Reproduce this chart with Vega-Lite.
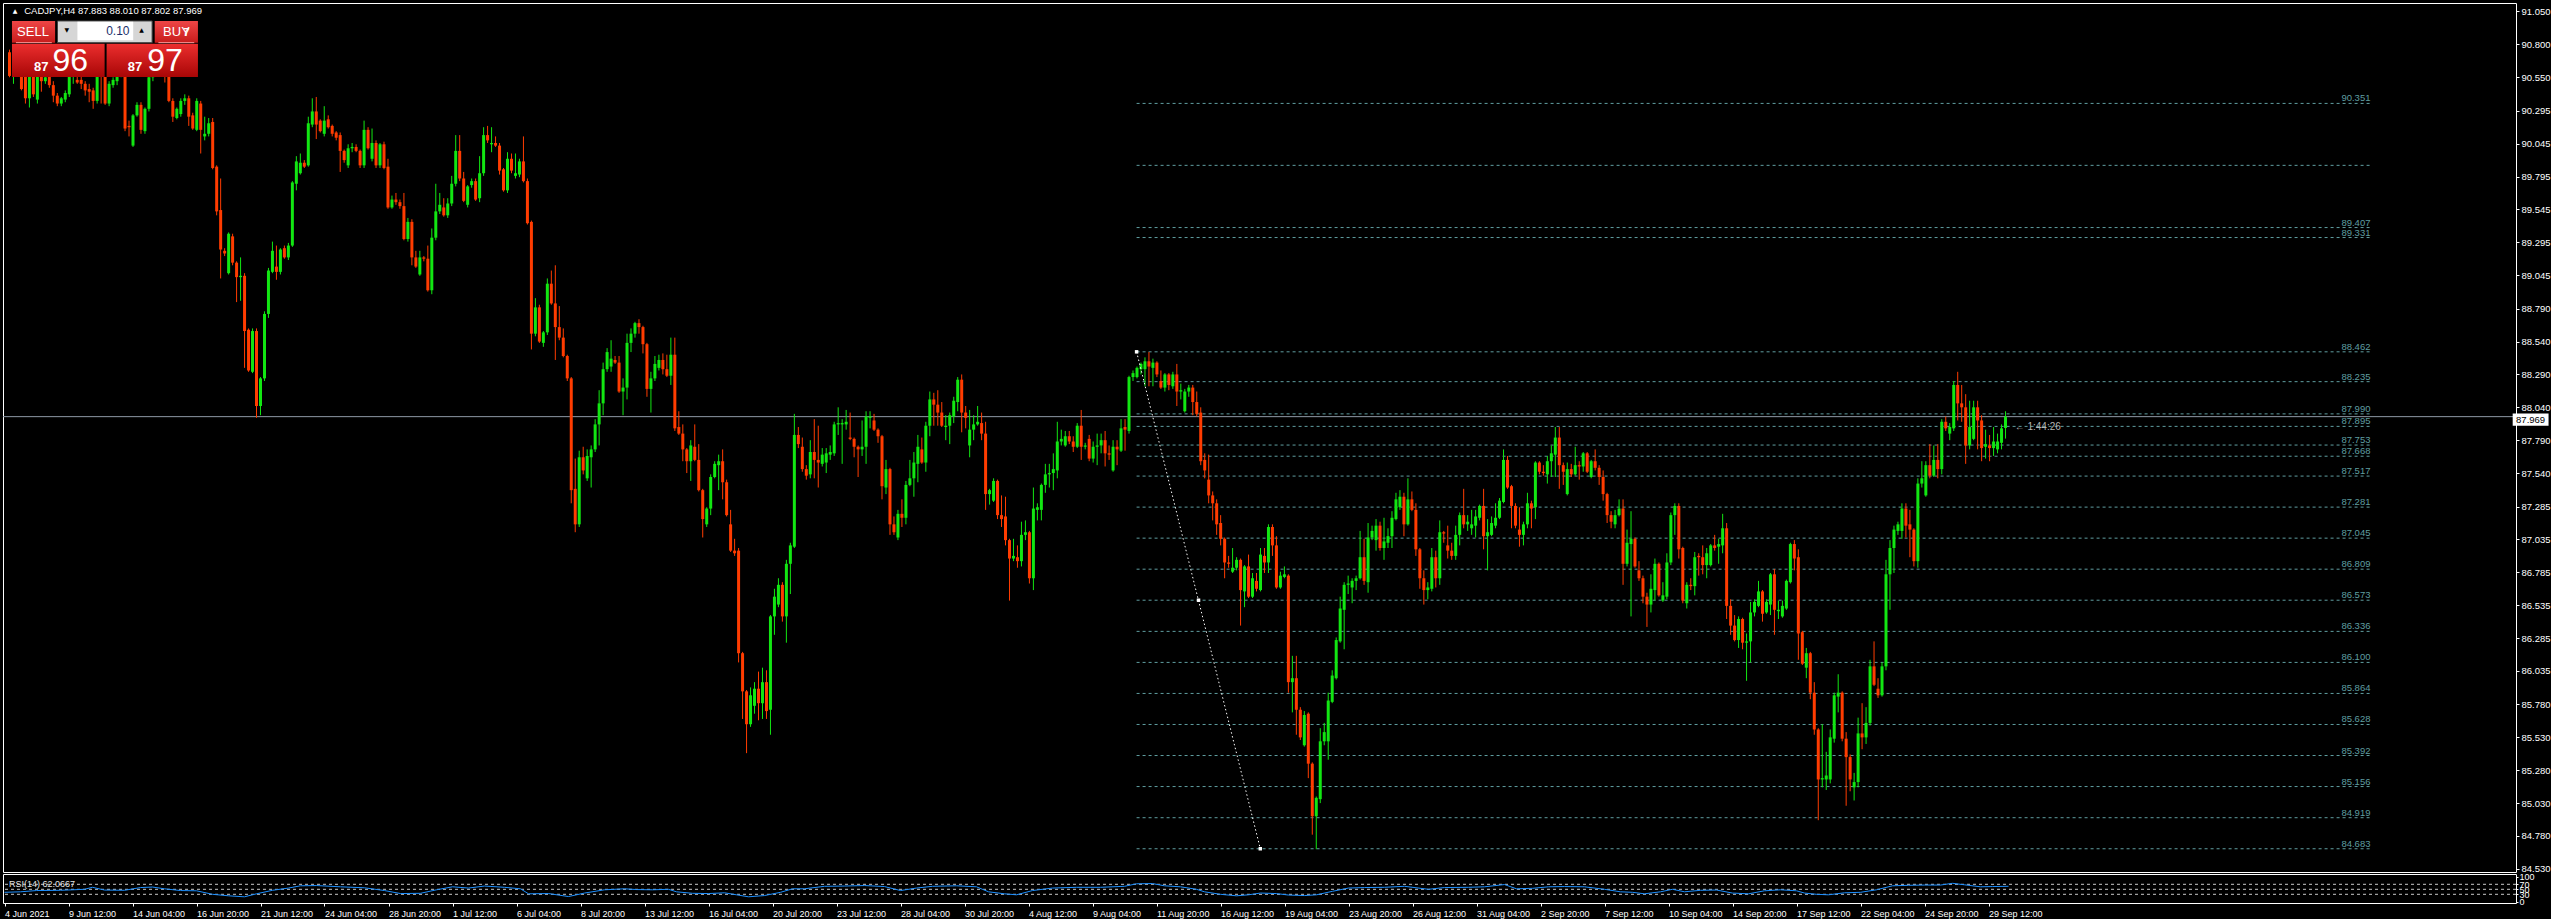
{
"$schema":"https://vega.github.io/schema/vega-lite/v6.json",
"background":"#000000",
"padding":{"left":2,"top":2,"right":0,"bottom":0},
"spacing":2,
"bounds":"flush",
"config":{"view":{"stroke":"#ffffff","strokeWidth":1},"axis":{"grid":false,"labelFont":"Liberation Sans"},"text":{"font":"Liberation Sans"}},
"datasets":{
"candles":[
{"i":0,"o":90.74,"h":90.76,"l":90.55,"c":90.56},{"i":1,"o":90.56,"h":90.64,"l":90.5,"c":90.6},{"i":2,"o":90.6,"h":90.68,"l":90.56,"c":90.64},{"i":3,"o":90.64,"h":90.7,"l":90.45,"c":90.46},{"i":4,"o":90.56,"h":90.62,"l":90.35,"c":90.39},{"i":5,"o":90.39,"h":90.66,"l":90.32,"c":90.6},{"i":6,"o":90.6,"h":90.64,"l":90.4,"c":90.42},{"i":7,"o":90.38,"h":90.68,"l":90.35,"c":90.62},{"i":8,"o":90.58,"h":90.64,"l":90.44,"c":90.52},{"i":9,"o":90.52,"h":90.6,"l":90.5,"c":90.55},
{"i":10,"o":90.62,"h":90.66,"l":90.47,"c":90.49},{"i":11,"o":90.49,"h":90.52,"l":90.36,"c":90.41},{"i":12,"o":90.41,"h":90.43,"l":90.33,"c":90.35},{"i":13,"o":90.35,"h":90.4,"l":90.33,"c":90.39},{"i":14,"o":90.38,"h":90.45,"l":90.36,"c":90.43},{"i":15,"o":90.42,"h":90.62,"l":90.4,"c":90.56},{"i":16,"o":90.58,"h":90.66,"l":90.5,"c":90.63},{"i":17,"o":90.53,"h":90.6,"l":90.5,"c":90.51},{"i":18,"o":90.53,"h":90.58,"l":90.46,"c":90.5},{"i":19,"o":90.5,"h":90.52,"l":90.41,"c":90.45},
{"i":20,"o":90.46,"h":90.5,"l":90.36,"c":90.44},{"i":21,"o":90.45,"h":90.47,"l":90.31,"c":90.37},{"i":22,"o":90.37,"h":90.6,"l":90.35,"c":90.57},{"i":23,"o":90.62,"h":90.66,"l":90.35,"c":90.56},{"i":24,"o":90.58,"h":90.62,"l":90.34,"c":90.35},{"i":25,"o":90.35,"h":90.52,"l":90.33,"c":90.5},{"i":26,"o":90.49,"h":90.55,"l":90.47,"c":90.53},{"i":27,"o":90.52,"h":90.62,"l":90.49,"c":90.58},{"i":28,"o":90.58,"h":90.7,"l":90.55,"c":90.65},{"i":29,"o":90.66,"h":90.72,"l":90.14,"c":90.16},
{"i":30,"o":90.18,"h":90.22,"l":90.1,"c":90.17},{"i":31,"o":90.03,"h":90.27,"l":90.02,"c":90.26},{"i":32,"o":90.26,"h":90.36,"l":90.25,"c":90.34},{"i":33,"o":90.34,"h":90.36,"l":90.12,"c":90.15},{"i":34,"o":90.14,"h":90.32,"l":90.12,"c":90.31},{"i":35,"o":90.31,"h":90.62,"l":90.29,"c":90.55},{"i":36,"o":90.55,"h":90.72,"l":90.52,"c":90.66},{"i":37,"o":90.66,"h":90.78,"l":90.6,"c":90.72},{"i":38,"o":90.72,"h":90.8,"l":90.62,"c":90.68},{"i":39,"o":90.68,"h":90.74,"l":90.51,"c":90.6},
{"i":40,"o":90.62,"h":90.66,"l":90.36,"c":90.37},{"i":41,"o":90.37,"h":90.39,"l":90.21,"c":90.25},{"i":42,"o":90.24,"h":90.32,"l":90.23,"c":90.31},{"i":43,"o":90.27,"h":90.39,"l":90.25,"c":90.37},{"i":44,"o":90.37,"h":90.42,"l":90.34,"c":90.39},{"i":45,"o":90.39,"h":90.41,"l":90.18,"c":90.25},{"i":46,"o":90.26,"h":90.28,"l":90.15,"c":90.16},{"i":47,"o":90.15,"h":90.39,"l":90.14,"c":90.37},{"i":48,"o":90.35,"h":90.37,"l":89.97,"c":90.15},{"i":49,"o":90.1,"h":90.25,"l":90.07,"c":90.12},
{"i":50,"o":90.12,"h":90.24,"l":90.1,"c":90.2},{"i":51,"o":90.21,"h":90.24,"l":89.85,"c":89.86},{"i":52,"o":89.87,"h":89.88,"l":89.5,"c":89.53},{"i":53,"o":89.54,"h":89.78,"l":89.02,"c":89.24},{"i":54,"o":89.23,"h":89.25,"l":89.19,"c":89.21},{"i":55,"o":89.06,"h":89.37,"l":89.05,"c":89.36},{"i":56,"o":89.34,"h":89.36,"l":89.12,"c":89.14},{"i":57,"o":89.14,"h":89.15,"l":88.84,"c":89.03},{"i":58,"o":89.03,"h":89.18,"l":88.85,"c":89.04},{"i":59,"o":89.04,"h":89.06,"l":88.34,"c":88.62},
{"i":60,"o":88.63,"h":88.64,"l":88.31,"c":88.32},{"i":61,"o":88.31,"h":88.64,"l":88.3,"c":88.62},{"i":62,"o":88.62,"h":88.64,"l":87.96,"c":88.05},{"i":63,"o":88.05,"h":88.27,"l":87.98,"c":88.26},{"i":64,"o":88.26,"h":88.77,"l":88.24,"c":88.75},{"i":65,"o":88.75,"h":89.1,"l":88.72,"c":89.08},{"i":66,"o":89.07,"h":89.3,"l":89.06,"c":89.23},{"i":67,"o":89.11,"h":89.27,"l":89.01,"c":89.07},{"i":68,"o":89.07,"h":89.25,"l":89.05,"c":89.24},{"i":69,"o":89.25,"h":89.27,"l":89.17,"c":89.18},
{"i":70,"o":89.18,"h":89.29,"l":89.16,"c":89.27},{"i":71,"o":89.27,"h":89.76,"l":89.26,"c":89.75},{"i":72,"o":89.74,"h":89.95,"l":89.69,"c":89.91},{"i":73,"o":89.82,"h":89.97,"l":89.81,"c":89.9},{"i":74,"o":89.9,"h":89.92,"l":89.86,"c":89.87},{"i":75,"o":89.88,"h":90.25,"l":89.87,"c":90.2},{"i":76,"o":90.19,"h":90.39,"l":90.17,"c":90.29},{"i":77,"o":90.29,"h":90.4,"l":90.08,"c":90.19},{"i":78,"o":90.22,"h":90.23,"l":90.13,"c":90.14},{"i":79,"o":90.12,"h":90.33,"l":90.1,"c":90.22},
{"i":80,"o":90.23,"h":90.26,"l":90.16,"c":90.17},{"i":81,"o":90.18,"h":90.19,"l":90.1,"c":90.12},{"i":82,"o":90.13,"h":90.14,"l":90.07,"c":90.09},{"i":83,"o":90.11,"h":90.13,"l":89.83,"c":89.99},{"i":84,"o":89.99,"h":90.0,"l":89.9,"c":89.92},{"i":85,"o":89.88,"h":90.04,"l":89.86,"c":90.01},{"i":86,"o":90.01,"h":90.05,"l":89.98,"c":90.02},{"i":87,"o":90.02,"h":90.04,"l":89.98,"c":89.99},{"i":88,"o":89.99,"h":90.0,"l":89.86,"c":89.88},{"i":89,"o":89.88,"h":90.22,"l":89.86,"c":90.15},
{"i":90,"o":90.15,"h":90.17,"l":90.0,"c":90.01},{"i":91,"o":89.93,"h":90.16,"l":89.91,"c":90.05},{"i":92,"o":90.05,"h":90.07,"l":89.86,"c":89.88},{"i":93,"o":89.88,"h":90.05,"l":89.86,"c":90.04},{"i":94,"o":90.04,"h":90.06,"l":89.85,"c":89.86},{"i":95,"o":89.87,"h":89.93,"l":89.55,"c":89.56},{"i":96,"o":89.56,"h":89.65,"l":89.55,"c":89.62},{"i":97,"o":89.62,"h":89.67,"l":89.58,"c":89.6},{"i":98,"o":89.6,"h":89.62,"l":89.55,"c":89.57},{"i":99,"o":89.57,"h":89.67,"l":89.31,"c":89.32},
{"i":100,"o":89.32,"h":89.48,"l":89.3,"c":89.45},{"i":101,"o":89.45,"h":89.47,"l":89.12,"c":89.18},{"i":102,"o":89.18,"h":89.23,"l":89.1,"c":89.11},{"i":103,"o":89.05,"h":89.23,"l":89.04,"c":89.18},{"i":104,"o":89.18,"h":89.19,"l":89.15,"c":89.17},{"i":105,"o":89.17,"h":89.27,"l":88.92,"c":88.93},{"i":106,"o":88.93,"h":89.4,"l":88.9,"c":89.33},{"i":107,"o":89.33,"h":89.74,"l":89.31,"c":89.53},{"i":108,"o":89.53,"h":89.67,"l":89.51,"c":89.58},{"i":109,"o":89.56,"h":89.63,"l":89.49,"c":89.5},
{"i":110,"o":89.5,"h":89.63,"l":89.48,"c":89.59},{"i":111,"o":89.59,"h":89.8,"l":89.57,"c":89.74},{"i":112,"o":89.74,"h":90.11,"l":89.72,"c":89.99},{"i":113,"o":89.99,"h":90.11,"l":89.76,"c":89.78},{"i":114,"o":89.78,"h":89.83,"l":89.6,"c":89.61},{"i":115,"o":89.58,"h":89.73,"l":89.56,"c":89.72},{"i":116,"o":89.73,"h":89.78,"l":89.71,"c":89.76},{"i":117,"o":89.76,"h":89.78,"l":89.61,"c":89.62},{"i":118,"o":89.63,"h":89.95,"l":89.6,"c":89.82},{"i":119,"o":89.82,"h":90.17,"l":89.8,"c":90.11},
{"i":120,"o":90.11,"h":90.18,"l":90.05,"c":90.07},{"i":121,"o":90.04,"h":90.17,"l":89.98,"c":90.05},{"i":122,"o":90.05,"h":90.1,"l":90.02,"c":90.03},{"i":123,"o":90.03,"h":90.05,"l":89.81,"c":89.84},{"i":124,"o":89.85,"h":89.86,"l":89.68,"c":89.69},{"i":125,"o":89.69,"h":89.98,"l":89.67,"c":89.93},{"i":126,"o":89.93,"h":89.97,"l":89.82,"c":89.84},{"i":127,"o":89.8,"h":89.97,"l":89.78,"c":89.82},{"i":128,"o":89.81,"h":89.93,"l":89.79,"c":89.91},{"i":129,"o":89.91,"h":90.1,"l":89.75,"c":89.76},
{"i":130,"o":89.76,"h":89.78,"l":89.43,"c":89.44},{"i":131,"o":89.45,"h":89.46,"l":88.48,"c":88.6},{"i":132,"o":88.6,"h":88.87,"l":88.58,"c":88.8},{"i":133,"o":88.8,"h":88.82,"l":88.53,"c":88.54},{"i":134,"o":88.53,"h":88.62,"l":88.5,"c":88.61},{"i":135,"o":88.61,"h":89.02,"l":88.59,"c":88.98},{"i":136,"o":88.98,"h":89.08,"l":88.82,"c":88.83},{"i":137,"o":88.83,"h":89.12,"l":88.4,"c":88.65},{"i":138,"o":88.65,"h":88.81,"l":88.55,"c":88.57},{"i":139,"o":88.57,"h":88.64,"l":88.42,"c":88.43},
{"i":140,"o":88.43,"h":88.44,"l":88.24,"c":88.26},{"i":141,"o":88.26,"h":88.27,"l":87.31,"c":87.41},{"i":142,"o":87.42,"h":87.65,"l":87.09,"c":87.15},{"i":143,"o":87.15,"h":87.71,"l":87.13,"c":87.66},{"i":144,"o":87.66,"h":87.74,"l":87.53,"c":87.56},{"i":145,"o":87.5,"h":87.72,"l":87.48,"c":87.67},{"i":146,"o":87.66,"h":87.75,"l":87.43,"c":87.72},{"i":147,"o":87.72,"h":87.95,"l":87.7,"c":87.91},{"i":148,"o":87.91,"h":88.17,"l":87.75,"c":88.07},{"i":149,"o":88.07,"h":88.38,"l":87.98,"c":88.33},
{"i":150,"o":88.33,"h":88.49,"l":88.31,"c":88.46},{"i":151,"o":88.35,"h":88.55,"l":88.31,"c":88.41},{"i":152,"o":88.4,"h":88.43,"l":88.37,"c":88.38},{"i":153,"o":88.38,"h":88.43,"l":88.15,"c":88.16},{"i":154,"o":88.16,"h":88.26,"l":87.98,"c":88.19},{"i":155,"o":88.19,"h":88.6,"l":88.1,"c":88.53},{"i":156,"o":88.53,"h":88.64,"l":88.46,"c":88.6},{"i":157,"o":88.6,"h":88.69,"l":88.57,"c":88.68},{"i":158,"o":88.68,"h":88.71,"l":88.6,"c":88.65},{"i":159,"o":88.65,"h":88.66,"l":88.45,"c":88.52},
{"i":160,"o":88.52,"h":88.53,"l":88.12,"c":88.18},{"i":161,"o":88.18,"h":88.31,"l":88.0,"c":88.26},{"i":162,"o":88.26,"h":88.43,"l":88.24,"c":88.37},{"i":163,"o":88.34,"h":88.44,"l":88.32,"c":88.4},{"i":164,"o":88.4,"h":88.45,"l":88.29,"c":88.33},{"i":165,"o":88.33,"h":88.44,"l":88.27,"c":88.28},{"i":166,"o":88.28,"h":88.57,"l":88.21,"c":88.44},{"i":167,"o":88.44,"h":88.57,"l":87.86,"c":87.88},{"i":168,"o":87.89,"h":88.01,"l":87.83,"c":87.84},{"i":169,"o":87.84,"h":87.91,"l":87.63,"c":87.72},
{"i":170,"o":87.72,"h":87.73,"l":87.54,"c":87.63},{"i":171,"o":87.63,"h":87.79,"l":87.48,"c":87.75},{"i":172,"o":87.74,"h":87.91,"l":87.63,"c":87.64},{"i":173,"o":87.64,"h":87.76,"l":87.4,"c":87.41},{"i":174,"o":87.41,"h":87.42,"l":87.05,"c":87.19},{"i":175,"o":87.15,"h":87.28,"l":87.13,"c":87.27},{"i":176,"o":87.27,"h":87.53,"l":87.22,"c":87.51},{"i":177,"o":87.51,"h":87.63,"l":87.5,"c":87.61},{"i":178,"o":87.6,"h":87.68,"l":87.41,"c":87.63},{"i":179,"o":87.63,"h":87.72,"l":87.34,"c":87.47},
{"i":180,"o":87.47,"h":87.49,"l":87.21,"c":87.22},{"i":181,"o":87.15,"h":87.26,"l":86.94,"c":86.95},{"i":182,"o":86.95,"h":87.04,"l":86.91,"c":86.93},{"i":183,"o":86.95,"h":86.97,"l":86.1,"c":86.17},{"i":184,"o":86.17,"h":86.18,"l":85.67,"c":85.88},{"i":185,"o":85.88,"h":85.89,"l":85.41,"c":85.63},{"i":186,"o":85.63,"h":85.91,"l":85.61,"c":85.85},{"i":187,"o":85.77,"h":85.95,"l":85.71,"c":85.9},{"i":188,"o":85.9,"h":86.03,"l":85.66,"c":85.79},{"i":189,"o":85.79,"h":86.06,"l":85.67,"c":85.95},
{"i":190,"o":85.95,"h":86.04,"l":85.67,"c":85.73},{"i":191,"o":85.74,"h":86.46,"l":85.55,"c":86.45},{"i":192,"o":86.45,"h":86.66,"l":86.31,"c":86.6},{"i":193,"o":86.54,"h":86.74,"l":86.52,"c":86.69},{"i":194,"o":86.69,"h":86.71,"l":86.41,"c":86.45},{"i":195,"o":86.45,"h":86.88,"l":86.25,"c":86.85},{"i":196,"o":86.85,"h":87.01,"l":86.62,"c":86.99},{"i":197,"o":86.98,"h":87.99,"l":86.97,"c":87.83},{"i":198,"o":87.83,"h":87.89,"l":87.73,"c":87.76},{"i":199,"o":87.74,"h":87.81,"l":87.55,"c":87.57},
{"i":200,"o":87.57,"h":87.6,"l":87.49,"c":87.52},{"i":201,"o":87.53,"h":87.79,"l":87.5,"c":87.7},{"i":202,"o":87.7,"h":87.95,"l":87.5,"c":87.64},{"i":203,"o":87.64,"h":87.9,"l":87.43,"c":87.62},{"i":204,"o":87.61,"h":87.73,"l":87.59,"c":87.68},{"i":205,"o":87.62,"h":87.73,"l":87.54,"c":87.69},{"i":206,"o":87.68,"h":87.75,"l":87.64,"c":87.7},{"i":207,"o":87.69,"h":87.93,"l":87.67,"c":87.91},{"i":208,"o":87.91,"h":88.04,"l":87.83,"c":87.92},{"i":209,"o":87.91,"h":87.95,"l":87.61,"c":87.92},
{"i":210,"o":87.91,"h":88.02,"l":87.87,"c":87.93},{"i":211,"o":87.81,"h":88.0,"l":87.79,"c":87.8},{"i":212,"o":87.8,"h":87.81,"l":87.66,"c":87.74},{"i":213,"o":87.74,"h":87.75,"l":87.51,"c":87.72},{"i":214,"o":87.72,"h":87.94,"l":87.67,"c":87.74},{"i":215,"o":87.74,"h":88.01,"l":87.61,"c":87.97},{"i":216,"o":87.96,"h":88.01,"l":87.88,"c":87.97},{"i":217,"o":87.94,"h":87.99,"l":87.86,"c":87.87},{"i":218,"o":87.87,"h":87.88,"l":87.77,"c":87.82},{"i":219,"o":87.82,"h":87.83,"l":87.34,"c":87.44},
{"i":220,"o":87.43,"h":87.64,"l":87.38,"c":87.57},{"i":221,"o":87.57,"h":87.58,"l":87.07,"c":87.15},{"i":222,"o":87.15,"h":87.21,"l":87.07,"c":87.09},{"i":223,"o":87.05,"h":87.26,"l":87.03,"c":87.23},{"i":224,"o":87.23,"h":87.34,"l":87.13,"c":87.2},{"i":225,"o":87.2,"h":87.48,"l":87.15,"c":87.45},{"i":226,"o":87.45,"h":87.64,"l":87.44,"c":87.5},{"i":227,"o":87.5,"h":87.7,"l":87.36,"c":87.62},{"i":228,"o":87.61,"h":87.83,"l":87.47,"c":87.74},{"i":229,"o":87.72,"h":87.81,"l":87.61,"c":87.62},
{"i":230,"o":87.62,"h":87.93,"l":87.55,"c":87.9},{"i":231,"o":87.9,"h":88.16,"l":87.82,"c":88.1},{"i":232,"o":88.1,"h":88.15,"l":87.9,"c":88.06},{"i":233,"o":88.06,"h":88.17,"l":87.9,"c":88.0},{"i":234,"o":88.0,"h":88.08,"l":87.89,"c":87.9},{"i":235,"o":87.89,"h":87.98,"l":87.79,"c":87.9},{"i":236,"o":87.9,"h":88.0,"l":87.76,"c":87.98},{"i":237,"o":87.97,"h":88.12,"l":87.92,"c":88.09},{"i":238,"o":88.08,"h":88.27,"l":88.01,"c":88.25},{"i":239,"o":88.25,"h":88.29,"l":87.85,"c":88.0},
{"i":240,"o":88.0,"h":88.05,"l":87.88,"c":87.96},{"i":241,"o":87.75,"h":88.02,"l":87.66,"c":87.87},{"i":242,"o":87.87,"h":87.98,"l":87.79,"c":87.91},{"i":243,"o":87.91,"h":88.05,"l":87.9,"c":87.93},{"i":244,"o":87.92,"h":88.0,"l":87.79,"c":87.84},{"i":245,"o":87.84,"h":87.93,"l":87.26,"c":87.38},{"i":246,"o":87.38,"h":87.42,"l":87.3,"c":87.41},{"i":247,"o":87.33,"h":87.5,"l":87.32,"c":87.48},{"i":248,"o":87.48,"h":87.49,"l":87.19,"c":87.22},{"i":249,"o":87.22,"h":87.37,"l":87.13,"c":87.19},
{"i":250,"o":87.21,"h":87.36,"l":86.99,"c":87.03},{"i":251,"o":87.03,"h":87.04,"l":86.57,"c":86.89},{"i":252,"o":86.89,"h":87.04,"l":86.87,"c":86.91},{"i":253,"o":86.9,"h":86.99,"l":86.82,"c":86.87},{"i":254,"o":86.87,"h":87.17,"l":86.83,"c":87.07},{"i":255,"o":87.07,"h":87.18,"l":87.03,"c":87.09},{"i":256,"o":87.09,"h":87.1,"l":86.7,"c":86.74},{"i":257,"o":86.74,"h":87.43,"l":86.65,"c":87.27},{"i":258,"o":87.26,"h":87.31,"l":87.18,"c":87.28},{"i":259,"o":87.26,"h":87.46,"l":87.18,"c":87.45},
{"i":260,"o":87.45,"h":87.61,"l":87.39,"c":87.53},{"i":261,"o":87.53,"h":87.61,"l":87.43,"c":87.54},{"i":262,"o":87.54,"h":87.69,"l":87.41,"c":87.57},{"i":263,"o":87.56,"h":87.93,"l":87.5,"c":87.78},{"i":264,"o":87.78,"h":87.87,"l":87.75,"c":87.8},{"i":265,"o":87.75,"h":87.86,"l":87.74,"c":87.82},{"i":266,"o":87.82,"h":87.86,"l":87.76,"c":87.78},{"i":267,"o":87.78,"h":87.82,"l":87.7,"c":87.74},{"i":268,"o":87.74,"h":87.92,"l":87.73,"c":87.9},{"i":269,"o":87.9,"h":88.02,"l":87.64,"c":87.74},
{"i":270,"o":87.74,"h":87.77,"l":87.72,"c":87.75},{"i":271,"o":87.8,"h":87.83,"l":87.63,"c":87.65},{"i":272,"o":87.65,"h":87.78,"l":87.62,"c":87.74},{"i":273,"o":87.74,"h":87.84,"l":87.6,"c":87.75},{"i":274,"o":87.75,"h":87.84,"l":87.69,"c":87.79},{"i":275,"o":87.79,"h":87.86,"l":87.59,"c":87.69},{"i":276,"o":87.69,"h":87.75,"l":87.64,"c":87.68},{"i":277,"o":87.56,"h":87.79,"l":87.55,"c":87.74},{"i":278,"o":87.74,"h":87.79,"l":87.6,"c":87.72},{"i":279,"o":87.71,"h":87.95,"l":87.7,"c":87.88},
{"i":280,"o":87.89,"h":87.95,"l":87.71,"c":87.87},{"i":281,"o":87.86,"h":88.28,"l":87.84,"c":88.27},{"i":282,"o":88.27,"h":88.32,"l":88.24,"c":88.3},{"i":283,"o":88.27,"h":88.35,"l":88.26,"c":88.34},{"i":284,"o":88.33,"h":88.38,"l":88.29,"c":88.37},{"i":285,"o":88.33,"h":88.42,"l":88.2,"c":88.39},{"i":286,"o":88.39,"h":88.46,"l":88.2,"c":88.35},{"i":287,"o":88.34,"h":88.41,"l":88.2,"c":88.38},{"i":288,"o":88.38,"h":88.39,"l":88.27,"c":88.29},{"i":289,"o":88.24,"h":88.32,"l":88.18,"c":88.19},
{"i":290,"o":88.19,"h":88.3,"l":88.16,"c":88.29},{"i":291,"o":88.29,"h":88.3,"l":88.17,"c":88.21},{"i":292,"o":88.2,"h":88.31,"l":88.18,"c":88.29},{"i":293,"o":88.29,"h":88.37,"l":88.05,"c":88.16},{"i":294,"o":88.16,"h":88.22,"l":88.1,"c":88.17},{"i":295,"o":88.01,"h":88.18,"l":88.0,"c":88.16},{"i":296,"o":88.16,"h":88.21,"l":88.12,"c":88.19},{"i":297,"o":88.19,"h":88.21,"l":87.98,"c":88.08},{"i":298,"o":88.08,"h":88.16,"l":87.97,"c":87.99},{"i":299,"o":88.0,"h":88.04,"l":87.6,"c":87.63},
{"i":300,"o":87.64,"h":87.69,"l":87.5,"c":87.56},{"i":301,"o":87.49,"h":87.68,"l":87.31,"c":87.37},{"i":302,"o":87.37,"h":87.4,"l":87.18,"c":87.31},{"i":303,"o":87.31,"h":87.34,"l":87.07,"c":87.15},{"i":304,"o":87.16,"h":87.22,"l":86.99,"c":87.04},{"i":305,"o":87.04,"h":87.05,"l":86.74,"c":86.86},{"i":306,"o":86.86,"h":86.91,"l":86.82,"c":86.85},{"i":307,"o":86.79,"h":86.97,"l":86.78,"c":86.82},{"i":308,"o":86.82,"h":86.9,"l":86.8,"c":86.88},{"i":309,"o":86.88,"h":86.89,"l":86.38,"c":86.65},
{"i":310,"o":86.64,"h":86.84,"l":86.52,"c":86.83},{"i":311,"o":86.83,"h":86.92,"l":86.59,"c":86.6},{"i":312,"o":86.6,"h":86.78,"l":86.59,"c":86.74},{"i":313,"o":86.72,"h":86.78,"l":86.64,"c":86.66},{"i":314,"o":86.65,"h":86.97,"l":86.64,"c":86.92},{"i":315,"o":86.91,"h":86.97,"l":86.78,"c":86.86},{"i":316,"o":86.86,"h":87.15,"l":86.78,"c":87.13},{"i":317,"o":87.13,"h":87.15,"l":86.91,"c":86.99},{"i":318,"o":86.99,"h":87.06,"l":86.66,"c":86.67},{"i":319,"o":86.67,"h":86.79,"l":86.66,"c":86.76},
{"i":320,"o":86.75,"h":86.83,"l":86.74,"c":86.77},{"i":321,"o":86.76,"h":86.77,"l":85.87,"c":85.95},{"i":322,"o":85.95,"h":86.15,"l":85.72,"c":85.98},{"i":323,"o":85.98,"h":86.15,"l":85.55,"c":85.74},{"i":324,"o":85.74,"h":85.76,"l":85.51,"c":85.53},{"i":325,"o":85.47,"h":85.73,"l":85.46,"c":85.7},{"i":326,"o":85.71,"h":85.72,"l":85.22,"c":85.33},{"i":327,"o":85.33,"h":85.34,"l":84.79,"c":84.93},{"i":328,"o":84.93,"h":85.08,"l":84.68,"c":85.07},{"i":329,"o":85.06,"h":85.6,"l":85.03,"c":85.5},
{"i":330,"o":85.5,"h":85.64,"l":85.47,"c":85.57},{"i":331,"o":85.5,"h":85.87,"l":85.36,"c":85.81},{"i":332,"o":85.8,"h":86.04,"l":85.79,"c":86.0},{"i":333,"o":85.98,"h":86.29,"l":85.97,"c":86.27},{"i":334,"o":86.26,"h":86.6,"l":86.25,"c":86.51},{"i":335,"o":86.5,"h":86.71,"l":86.2,"c":86.69},{"i":336,"o":86.69,"h":86.76,"l":86.62,"c":86.7},{"i":337,"o":86.67,"h":86.74,"l":86.55,"c":86.72},{"i":338,"o":86.72,"h":86.76,"l":86.65,"c":86.74},{"i":339,"o":86.74,"h":87.1,"l":86.73,"c":86.9},
{"i":340,"o":86.9,"h":87.04,"l":86.69,"c":86.72},{"i":341,"o":86.71,"h":87.16,"l":86.63,"c":87.05},{"i":342,"o":87.05,"h":87.14,"l":87.03,"c":87.1},{"i":343,"o":87.03,"h":87.19,"l":86.95,"c":87.14},{"i":344,"o":87.14,"h":87.17,"l":86.95,"c":86.97},{"i":345,"o":86.97,"h":87.2,"l":86.88,"c":87.02},{"i":346,"o":87.01,"h":87.12,"l":86.97,"c":87.06},{"i":347,"o":87.06,"h":87.25,"l":86.97,"c":87.2},{"i":348,"o":87.19,"h":87.39,"l":87.18,"c":87.34},{"i":349,"o":87.28,"h":87.41,"l":87.26,"c":87.36},
{"i":350,"o":87.36,"h":87.39,"l":87.06,"c":87.15},{"i":351,"o":87.15,"h":87.5,"l":87.14,"c":87.34},{"i":352,"o":87.34,"h":87.4,"l":87.25,"c":87.26},{"i":353,"o":87.26,"h":87.31,"l":86.91,"c":86.96},{"i":354,"o":86.96,"h":86.97,"l":86.66,"c":86.74},{"i":355,"o":86.74,"h":86.8,"l":86.54,"c":86.65},{"i":356,"o":86.65,"h":86.71,"l":86.58,"c":86.67},{"i":357,"o":86.66,"h":86.97,"l":86.64,"c":86.9},{"i":358,"o":86.9,"h":86.95,"l":86.67,"c":86.74},{"i":359,"o":86.74,"h":87.18,"l":86.69,"c":87.09},
{"i":360,"o":87.09,"h":87.1,"l":87.01,"c":87.08},{"i":361,"o":86.99,"h":87.14,"l":86.89,"c":86.95},{"i":362,"o":86.95,"h":87.01,"l":86.88,"c":86.91},{"i":363,"o":86.91,"h":87.14,"l":86.88,"c":87.07},{"i":364,"o":87.07,"h":87.24,"l":86.99,"c":87.22},{"i":365,"o":87.22,"h":87.42,"l":87.12,"c":87.15},{"i":366,"o":87.15,"h":87.22,"l":87.1,"c":87.17},{"i":367,"o":87.12,"h":87.26,"l":87.07,"c":87.15},{"i":368,"o":87.14,"h":87.26,"l":87.05,"c":87.21},{"i":369,"o":87.2,"h":87.3,"l":87.18,"c":87.29},
{"i":370,"o":87.29,"h":87.42,"l":86.96,"c":87.06},{"i":371,"o":87.06,"h":87.19,"l":86.8,"c":87.09},{"i":372,"o":87.07,"h":87.21,"l":87.06,"c":87.16},{"i":373,"o":87.14,"h":87.31,"l":87.12,"c":87.2},{"i":374,"o":87.2,"h":87.35,"l":87.19,"c":87.33},{"i":375,"o":87.32,"h":87.72,"l":87.31,"c":87.64},{"i":376,"o":87.64,"h":87.67,"l":87.42,"c":87.43},{"i":377,"o":87.44,"h":87.45,"l":87.12,"c":87.29},{"i":378,"o":87.29,"h":87.31,"l":87.12,"c":87.14},{"i":379,"o":87.11,"h":87.28,"l":86.98,"c":87.07},
{"i":380,"o":87.07,"h":87.17,"l":86.99,"c":87.15},{"i":381,"o":87.15,"h":87.39,"l":87.12,"c":87.31},{"i":382,"o":87.31,"h":87.33,"l":87.12,"c":87.27},{"i":383,"o":87.28,"h":87.63,"l":87.19,"c":87.62},{"i":384,"o":87.62,"h":87.63,"l":87.53,"c":87.55},{"i":385,"o":87.55,"h":87.6,"l":87.52,"c":87.54},{"i":386,"o":87.53,"h":87.67,"l":87.46,"c":87.63},{"i":387,"o":87.63,"h":87.75,"l":87.51,"c":87.69},{"i":388,"o":87.68,"h":87.89,"l":87.51,"c":87.81},{"i":389,"o":87.81,"h":87.89,"l":87.42,"c":87.6},
{"i":390,"o":87.6,"h":87.62,"l":87.45,"c":87.55},{"i":391,"o":87.38,"h":87.62,"l":87.37,"c":87.57},{"i":392,"o":87.57,"h":87.61,"l":87.51,"c":87.53},{"i":393,"o":87.53,"h":87.74,"l":87.52,"c":87.6},{"i":394,"o":87.6,"h":87.63,"l":87.49,"c":87.59},{"i":395,"o":87.59,"h":87.7,"l":87.55,"c":87.69},{"i":396,"o":87.69,"h":87.7,"l":87.54,"c":87.55},{"i":397,"o":87.51,"h":87.64,"l":87.5,"c":87.63},{"i":398,"o":87.63,"h":87.72,"l":87.56,"c":87.58},{"i":399,"o":87.58,"h":87.6,"l":87.45,"c":87.51},
{"i":400,"o":87.51,"h":87.56,"l":87.33,"c":87.38},{"i":401,"o":87.38,"h":87.39,"l":87.16,"c":87.22},{"i":402,"o":87.22,"h":87.25,"l":87.12,"c":87.17},{"i":403,"o":87.15,"h":87.26,"l":87.12,"c":87.22},{"i":404,"o":87.22,"h":87.34,"l":87.21,"c":87.27},{"i":405,"o":87.27,"h":87.34,"l":86.69,"c":86.85},{"i":406,"o":86.85,"h":87.11,"l":86.83,"c":87.01},{"i":407,"o":87.0,"h":87.25,"l":86.45,"c":87.04},{"i":408,"o":87.04,"h":87.05,"l":86.82,"c":86.83},{"i":409,"o":86.8,"h":86.87,"l":86.72,"c":86.74},
{"i":410,"o":86.74,"h":86.76,"l":86.55,"c":86.6},{"i":411,"o":86.6,"h":86.63,"l":86.37,"c":86.54},{"i":412,"o":86.54,"h":86.77,"l":86.48,"c":86.66},{"i":413,"o":86.65,"h":86.89,"l":86.57,"c":86.85},{"i":414,"o":86.85,"h":86.86,"l":86.6,"c":86.61},{"i":415,"o":86.57,"h":86.71,"l":86.56,"c":86.61},{"i":416,"o":86.6,"h":86.93,"l":86.58,"c":86.86},{"i":417,"o":86.86,"h":87.24,"l":86.84,"c":87.22},{"i":418,"o":87.22,"h":87.31,"l":87.07,"c":87.29},{"i":419,"o":87.29,"h":87.31,"l":86.89,"c":86.96},
{"i":420,"o":86.97,"h":86.98,"l":86.55,"c":86.57},{"i":421,"o":86.55,"h":86.71,"l":86.51,"c":86.69},{"i":422,"o":86.69,"h":86.74,"l":86.65,"c":86.68},{"i":423,"o":86.68,"h":86.94,"l":86.61,"c":86.9},{"i":424,"o":86.91,"h":86.93,"l":86.76,"c":86.9},{"i":425,"o":86.9,"h":86.99,"l":86.77,"c":86.84},{"i":426,"o":86.84,"h":86.97,"l":86.74,"c":86.93},{"i":427,"o":86.84,"h":87.0,"l":86.83,"c":86.99},{"i":428,"o":86.99,"h":87.07,"l":86.95,"c":86.97},{"i":429,"o":86.98,"h":87.04,"l":86.85,"c":87.0},
{"i":430,"o":86.99,"h":87.23,"l":86.93,"c":87.12},{"i":431,"o":87.12,"h":87.16,"l":86.43,"c":86.53},{"i":432,"o":86.53,"h":86.58,"l":86.31,"c":86.38},{"i":433,"o":86.38,"h":86.46,"l":86.26,"c":86.27},{"i":434,"o":86.27,"h":86.45,"l":86.21,"c":86.43},{"i":435,"o":86.43,"h":86.44,"l":86.2,"c":86.25},{"i":436,"o":86.25,"h":86.32,"l":85.96,"c":86.26},{"i":437,"o":86.26,"h":86.56,"l":86.1,"c":86.48},{"i":438,"o":86.48,"h":86.58,"l":86.45,"c":86.56},{"i":439,"o":86.53,"h":86.72,"l":86.52,"c":86.64},
{"i":440,"o":86.64,"h":86.65,"l":86.41,"c":86.47},{"i":441,"o":86.48,"h":86.58,"l":86.47,"c":86.56},{"i":442,"o":86.54,"h":86.78,"l":86.46,"c":86.77},{"i":443,"o":86.77,"h":86.81,"l":86.31,"c":86.5},{"i":444,"o":86.49,"h":86.57,"l":86.43,"c":86.5},{"i":445,"o":86.45,"h":86.57,"l":86.44,"c":86.53},{"i":446,"o":86.51,"h":86.73,"l":86.5,"c":86.72},{"i":447,"o":86.71,"h":87.01,"l":86.7,"c":87.0},{"i":448,"o":87.0,"h":87.03,"l":86.8,"c":86.89},{"i":449,"o":86.9,"h":86.96,"l":86.12,"c":86.32},
{"i":450,"o":86.33,"h":86.34,"l":86.08,"c":86.09},{"i":451,"o":86.06,"h":86.21,"l":85.98,"c":86.17},{"i":452,"o":86.17,"h":86.18,"l":85.82,"c":85.87},{"i":453,"o":85.87,"h":85.95,"l":85.55,"c":85.59},{"i":454,"o":85.59,"h":85.6,"l":84.9,"c":85.21},{"i":455,"o":85.21,"h":85.63,"l":85.15,"c":85.22},{"i":456,"o":85.21,"h":85.42,"l":85.13,"c":85.24},{"i":457,"o":85.21,"h":85.59,"l":85.18,"c":85.53},{"i":458,"o":85.52,"h":85.87,"l":85.49,"c":85.85},{"i":459,"o":85.84,"h":86.01,"l":85.72,"c":85.87},
{"i":460,"o":85.87,"h":85.88,"l":85.5,"c":85.52},{"i":461,"o":85.52,"h":85.57,"l":85.01,"c":85.38},{"i":462,"o":85.38,"h":85.4,"l":85.12,"c":85.21},{"i":463,"o":85.15,"h":85.26,"l":85.05,"c":85.19},{"i":464,"o":85.19,"h":85.68,"l":85.15,"c":85.56},{"i":465,"o":85.56,"h":85.79,"l":85.44,"c":85.53},{"i":466,"o":85.53,"h":85.76,"l":85.48,"c":85.64},{"i":467,"o":85.64,"h":86.12,"l":85.62,"c":86.07},{"i":468,"o":86.07,"h":86.26,"l":85.92,"c":85.93},{"i":469,"o":85.9,"h":85.98,"l":85.83,"c":85.85},
{"i":470,"o":85.85,"h":86.1,"l":85.84,"c":86.07},{"i":471,"o":86.07,"h":86.88,"l":86.04,"c":86.77},{"i":472,"o":86.77,"h":87.03,"l":86.5,"c":86.97},{"i":473,"o":86.97,"h":87.14,"l":86.78,"c":87.11},{"i":474,"o":87.1,"h":87.17,"l":87.07,"c":87.15},{"i":475,"o":87.1,"h":87.31,"l":87.04,"c":87.27},{"i":476,"o":87.27,"h":87.31,"l":87.05,"c":87.14},{"i":477,"o":87.15,"h":87.26,"l":86.9,"c":87.11},{"i":478,"o":87.11,"h":87.12,"l":86.83,"c":86.87},{"i":479,"o":86.87,"h":87.5,"l":86.82,"c":87.46},
{"i":480,"o":87.46,"h":87.63,"l":87.43,"c":87.5},{"i":481,"o":87.37,"h":87.63,"l":87.36,"c":87.6},{"i":482,"o":87.6,"h":87.76,"l":87.5,"c":87.52},{"i":483,"o":87.52,"h":87.75,"l":87.51,"c":87.64},{"i":484,"o":87.64,"h":87.76,"l":87.5,"c":87.57},{"i":485,"o":87.57,"h":87.95,"l":87.53,"c":87.93},{"i":486,"o":87.93,"h":87.97,"l":87.86,"c":87.88},{"i":487,"o":87.84,"h":87.92,"l":87.79,"c":87.89},{"i":488,"o":87.88,"h":88.24,"l":87.86,"c":88.21},{"i":489,"o":88.21,"h":88.31,"l":87.94,"c":88.07},
{"i":490,"o":88.07,"h":88.21,"l":87.93,"c":88.04},{"i":491,"o":88.04,"h":88.14,"l":87.61,"c":87.75},{"i":492,"o":87.75,"h":88.09,"l":87.72,"c":87.89},{"i":493,"o":87.8,"h":88.09,"l":87.79,"c":88.04},{"i":494,"o":88.04,"h":88.09,"l":87.72,"c":87.94},{"i":495,"o":87.94,"h":87.98,"l":87.63,"c":87.73},{"i":496,"o":87.74,"h":87.87,"l":87.65,"c":87.76},{"i":497,"o":87.75,"h":87.83,"l":87.63,"c":87.73},{"i":498,"o":87.73,"h":87.89,"l":87.67,"c":87.78},{"i":499,"o":87.72,"h":87.84,"l":87.69,"c":87.78},
{"i":500,"o":87.77,"h":87.91,"l":87.72,"c":87.88},{"i":501,"o":87.883,"h":88.01,"l":87.802,"c":87.969}
],
"rsi":[
{"i":0,"r":38},{"i":4,"r":40},{"i":8,"r":45},{"i":14,"r":46},{"i":20,"r":50},{"i":22,"r":58},{"i":25,"r":47},{"i":30,"r":46},{"i":34,"r":57},{"i":37,"r":59},{"i":40,"r":52},{"i":44,"r":45},{"i":48,"r":44},{"i":52,"r":30},{"i":56,"r":24},{"i":60,"r":20},{"i":63,"r":32},{"i":67,"r":46},{"i":71,"r":55},{"i":74,"r":64},{"i":78,"r":65},{"i":84,"r":60},{"i":90,"r":56},{"i":95,"r":45},{"i":99,"r":33},{"i":104,"r":34},{"i":108,"r":48},{"i":112,"r":60},{"i":116,"r":55},{"i":120,"r":63},{"i":125,"r":58},{"i":129,"r":52},{"i":131,"r":32},{"i":136,"r":33},{"i":141,"r":21},{"i":145,"r":35},{"i":150,"r":48},{"i":155,"r":52},{"i":158,"r":49},{"i":162,"r":48},{"i":166,"r":50},{"i":168,"r":40},{"i":172,"r":34},{"i":176,"r":33},{"i":180,"r":36},{"i":183,"r":28},{"i":186,"r":20},{"i":190,"r":25},{"i":194,"r":38},{"i":197,"r":52},{"i":200,"r":52},{"i":205,"r":62},{"i":210,"r":63},{"i":215,"r":65},{"i":220,"r":61},{"i":224,"r":45},{"i":228,"r":55},{"i":232,"r":62},{"i":238,"r":64},{"i":243,"r":60},{"i":246,"r":40},{"i":250,"r":32},{"i":253,"r":28},{"i":257,"r":45},{"i":262,"r":55},{"i":268,"r":58},{"i":274,"r":58},{"i":280,"r":62},{"i":283,"r":72},{"i":287,"r":73},{"i":290,"r":64},{"i":294,"r":60},{"i":298,"r":50},{"i":300,"r":40},{"i":304,"r":30},{"i":308,"r":24},{"i":311,"r":28},{"i":314,"r":35},{"i":318,"r":33},{"i":321,"r":27},{"i":325,"r":25},{"i":328,"r":28},{"i":332,"r":42},{"i":336,"r":55},{"i":340,"r":57},{"i":345,"r":58},{"i":350,"r":62},{"i":356,"r":50},{"i":360,"r":57},{"i":366,"r":58},{"i":370,"r":60},{"i":375,"r":69},{"i":378,"r":52},{"i":382,"r":54},{"i":386,"r":60},{"i":390,"r":61},{"i":395,"r":60},{"i":400,"r":50},{"i":404,"r":40},{"i":407,"r":38},{"i":410,"r":32},{"i":414,"r":40},{"i":417,"r":50},{"i":420,"r":40},{"i":424,"r":46},{"i":428,"r":47},{"i":432,"r":35},{"i":436,"r":32},{"i":440,"r":44},{"i":444,"r":48},{"i":448,"r":44},{"i":450,"r":35},{"i":453,"r":30},{"i":456,"r":28},{"i":460,"r":36},{"i":464,"r":38},{"i":468,"r":48},{"i":472,"r":64},{"i":476,"r":66},{"i":480,"r":67},{"i":484,"r":67},{"i":487,"r":74},{"i":490,"r":68},{"i":494,"r":60},{"i":497,"r":61},{"i":501,"r":62.07}
],
"fib":[
{"lv":90.351,"lab":"90.351"},{"lv":89.88,"lab":""},{"lv":89.407,"lab":"89.407"},{"lv":89.331,"lab":"89.331"},{"lv":88.462,"lab":"88.462"},{"lv":88.235,"lab":"88.235"},{"lv":87.99,"lab":"87.990"},{"lv":87.895,"lab":"87.895"},{"lv":87.753,"lab":"87.753"},{"lv":87.668,"lab":"87.668"},{"lv":87.517,"lab":"87.517"},{"lv":87.281,"lab":"87.281"},{"lv":87.045,"lab":"87.045"},{"lv":86.809,"lab":"86.809"},{"lv":86.573,"lab":"86.573"},{"lv":86.336,"lab":"86.336"},{"lv":86.1,"lab":"86.100"},{"lv":85.864,"lab":"85.864"},{"lv":85.628,"lab":"85.628"},{"lv":85.392,"lab":"85.392"},{"lv":85.156,"lab":"85.156"},{"lv":84.919,"lab":"84.919"},{"lv":84.683,"lab":"84.683"}
]
},
"vconcat":[
{
"width":2513,"height":869,
"resolve":{"axis":{"x":"independent","y":"independent"}},
"layer":[
{"data":{"values":[{"p":87.969}]},"mark":{"type":"rule","color":"#8f99a6","strokeWidth":1},
 "encoding":{"y":{"field":"p","type":"quantitative","axis":null}}},
{"data":{"name":"fib"},"mark":{"type":"rule","color":"#5f9ea0","strokeDash":[3,3],"strokeWidth":1},
 "encoding":{"x":{"datum":282.9,"axis":null},"x2":{"datum":592.6},"y":{"field":"lv","type":"quantitative","axis":null}}},
{"data":{"name":"fib"},"mark":{"type":"text","color":"#5f9ea0","align":"right","baseline":"alphabetic","dy":-2,"fontSize":9.5},
 "encoding":{"x":{"datum":592.6,"axis":null},"y":{"field":"lv","type":"quantitative","axis":null},"text":{"field":"lab"}}},
{"data":{"name":"candles"},"mark":{"type":"rule","strokeWidth":1},
 "encoding":{
  "x":{"field":"i","type":"quantitative","scale":{"domain":[-0.375,627.875],"nice":false,"zero":false},"axis":null},
  "y":{"field":"l","type":"quantitative","scale":{"domain":[84.5062,91.1146],"nice":false,"zero":false},
       "axis":{"orient":"right","title":null,"values":[84.53,84.78,85.03,85.28,85.53,85.78,86.035,86.285,86.535,86.785,87.035,87.285,87.54,87.79,88.04,88.29,88.54,88.79,89.045,89.295,89.545,89.795,90.045,90.295,90.55,90.8,91.05],
               "labelExpr":"format(datum.value, '.3f')","tickSize":3,"tickColor":"#ffffff","labelColor":"#ffffff","labelFontSize":9.5,"labelPadding":2,"domain":false,"labelFlush":false,"labelOverlap":false,"labelBound":false}},
  "y2":{"field":"h"},
  "color":{"condition":{"test":"datum.c >= datum.o","value":"#12e612"},"value":"#ff3c00"}}},
{"data":{"name":"candles"},"mark":{"type":"bar","width":3},
 "encoding":{
  "x":{"field":"i","type":"quantitative","axis":null},
  "y":{"field":"o","type":"quantitative","axis":null},
  "y2":{"field":"c"},
  "color":{"condition":{"test":"datum.c >= datum.o","value":"#12e612"},"value":"#ff3c00"}}},
{"data":{"values":[{}]},"mark":{"type":"rule","color":"#ffffff","strokeDash":[1.5,2.5],"strokeWidth":1},
 "encoding":{"x":{"datum":282.9,"axis":null},"y":{"datum":88.462,"axis":null},"x2":{"datum":313.95},"y2":{"datum":84.683}}},
{"data":{"values":[{"t":282.9,"p":88.462},{"t":298.45,"p":86.573},{"t":313.95,"p":84.683}]},"mark":{"type":"point","shape":"square","filled":true,"color":"#ffffff","size":12,"opacity":1},
 "encoding":{"x":{"field":"t","type":"quantitative","axis":null},"y":{"field":"p","type":"quantitative","axis":null}}},
{"data":{"values":[{}]},"mark":{"type":"rect","color":"#ffffff"},
 "encoding":{"x":{"datum":628.3,"axis":null},"x2":{"datum":637.3},"y":{"datum":87.992,"axis":null},"y2":{"datum":87.9}}},
{"data":{"values":[{}]},"mark":{"type":"text","text":"87.969","color":"#000000","align":"center","baseline":"middle","fontSize":9.5},
 "encoding":{"x":{"datum":632.8,"axis":null},"y":{"datum":87.946,"axis":null}}},
{"data":{"values":[{}]},"mark":{"type":"text","text":"← 1:44:26","color":"#b4b4b4","align":"left","baseline":"middle","fontSize":10},
 "encoding":{"x":{"datum":503.3,"axis":null},"y":{"datum":87.89,"axis":null}}},
{"data":{"values":[{}]},"mark":{"type":"text","text":"▲","color":"#ffffff","align":"center","baseline":"middle","fontSize":6,"font":"DejaVu Sans"},
 "encoding":{"x":{"datum":1.4,"axis":null},"y":{"datum":91.05,"axis":null}}},
{"data":{"values":[{}]},"mark":{"type":"text","text":"CADJPY,H4  87.883 88.010 87.802 87.969","color":"#ffffff","align":"left","baseline":"middle","fontSize":9.5},
 "encoding":{"x":{"datum":3.7,"axis":null},"y":{"datum":91.05,"axis":null}}},
{"data":{"values":[{}]},"mark":{"type":"rect","color":"#000000"},
 "encoding":{"x":{"datum":0.4,"axis":null},"x2":{"datum":47.5},"y":{"datum":90.989,"axis":null},"y2":{"datum":90.552}}},
{"data":{"values":[{}]},"mark":{"type":"rect","fill":{"gradient":"linear","x1":0,"y1":0,"x2":0,"y2":1,"stops":[{"offset":0,"color":"#ee4646"},{"offset":1,"color":"#c81c1c"}]}},
 "encoding":{"x":{"datum":0.625,"axis":null},"x2":{"datum":11.45},"y":{"datum":90.978,"axis":null},"y2":{"datum":90.813}}},
{"data":{"values":[{}]},"mark":{"type":"rect","fill":{"gradient":"linear","x1":0,"y1":0,"x2":0,"y2":1,"stops":[{"offset":0,"color":"#ee4646"},{"offset":1,"color":"#c81c1c"}]}},
 "encoding":{"x":{"datum":36.45,"axis":null},"x2":{"datum":47.3},"y":{"datum":90.978,"axis":null},"y2":{"datum":90.813}}},
{"data":{"values":[{}]},"mark":{"type":"rect","fill":{"gradient":"linear","x1":0,"y1":0,"x2":0,"y2":1,"stops":[{"offset":0,"color":"#ec2e2e"},{"offset":1,"color":"#a80606"}]}},
 "encoding":{"x":{"datum":0.625,"axis":null},"x2":{"datum":23.875},"y":{"datum":90.805,"axis":null},"y2":{"datum":90.552}}},
{"data":{"values":[{}]},"mark":{"type":"rect","fill":{"gradient":"linear","x1":0,"y1":0,"x2":0,"y2":1,"stops":[{"offset":0,"color":"#ec2e2e"},{"offset":1,"color":"#a80606"}]}},
 "encoding":{"x":{"datum":24.375,"axis":null},"x2":{"datum":47.3},"y":{"datum":90.805,"axis":null},"y2":{"datum":90.552}}},
{"data":{"values":[{}]},"mark":{"type":"rect","color":"#d6d6d6","stroke":"#404040","strokeWidth":1},
 "encoding":{"x":{"datum":12.05,"axis":null},"x2":{"datum":35.8},"y":{"datum":90.978,"axis":null},"y2":{"datum":90.813}}},
{"data":{"values":[{}]},"mark":{"type":"rect","color":"#ffffff"},
 "encoding":{"x":{"datum":17.05,"axis":null},"x2":{"datum":31.05},"y":{"datum":90.972,"axis":null},"y2":{"datum":90.831}}},
{"data":{"values":[{}]},"mark":{"type":"rule","color":"#ff9c9c","strokeWidth":1},
 "encoding":{"x":{"datum":1.625,"axis":null},"x2":{"datum":10.625},"y":{"datum":90.813,"axis":null}}},
{"data":{"values":[{}]},"mark":{"type":"rule","color":"#ff9c9c","strokeWidth":1},
 "encoding":{"x":{"datum":37.375,"axis":null},"x2":{"datum":46.375},"y":{"datum":90.813,"axis":null}}},
{"data":{"values":[{}]},"mark":{"type":"text","text":"▼","color":"#000000","align":"center","baseline":"middle","fontSize":6,"font":"DejaVu Sans"},
 "encoding":{"x":{"datum":14.375,"axis":null},"y":{"datum":90.909,"axis":null}}},
{"data":{"values":[{}]},"mark":{"type":"text","text":"▲","color":"#000000","align":"center","baseline":"middle","fontSize":6,"font":"DejaVu Sans"},
 "encoding":{"x":{"datum":33.125,"axis":null},"y":{"datum":90.909,"axis":null}}},
{"data":{"values":[{}]},"mark":{"type":"text","text":"0.10","color":"#1b2f6b","align":"right","baseline":"middle","fontSize":12,"font":"Liberation Sans Narrow, Liberation Sans"},
 "encoding":{"x":{"datum":30.125,"axis":null},"y":{"datum":90.9,"axis":null}}},
{"data":{"values":[{}]},"mark":{"type":"text","text":"SELL","color":"#ffffff","align":"center","baseline":"middle","fontSize":13,"font":"Liberation Sans Narrow, Liberation Sans"},
 "encoding":{"x":{"datum":5.9,"axis":null},"y":{"datum":90.893,"axis":null}}},
{"data":{"values":[{}]},"mark":{"type":"text","text":"BUY","color":"#ffffff","align":"center","baseline":"middle","fontSize":13,"font":"Liberation Sans Narrow, Liberation Sans"},
 "encoding":{"x":{"datum":41.9,"axis":null},"y":{"datum":90.893,"axis":null}}},
{"data":{"values":[{}]},"mark":{"type":"text","text":"87","color":"#ffffff","align":"right","baseline":"alphabetic","fontSize":13,"fontWeight":"bold"},
 "encoding":{"x":{"datum":9.8,"axis":null},"y":{"datum":90.598,"axis":null}}},
{"data":{"values":[{}]},"mark":{"type":"text","text":"96","color":"#ffffff","align":"left","baseline":"alphabetic","fontSize":32},
 "encoding":{"x":{"datum":10.8,"axis":null},"y":{"datum":90.598,"axis":null}}},
{"data":{"values":[{}]},"mark":{"type":"text","text":"9","color":"#ffffff","align":"left","baseline":"alphabetic","fontSize":11,"fontWeight":"bold"},
 "encoding":{"x":{"datum":19.875,"axis":null},"y":{"datum":90.864,"axis":null}}},
{"data":{"values":[{}]},"mark":{"type":"text","text":"87","color":"#ffffff","align":"right","baseline":"alphabetic","fontSize":13,"fontWeight":"bold"},
 "encoding":{"x":{"datum":33.3,"axis":null},"y":{"datum":90.598,"axis":null}}},
{"data":{"values":[{}]},"mark":{"type":"text","text":"97","color":"#ffffff","align":"left","baseline":"alphabetic","fontSize":32},
 "encoding":{"x":{"datum":34.55,"axis":null},"y":{"datum":90.598,"axis":null}}},
{"data":{"values":[{}]},"mark":{"type":"text","text":"7","color":"#ffffff","align":"left","baseline":"alphabetic","fontSize":11,"fontWeight":"bold"},
 "encoding":{"x":{"datum":43.7,"axis":null},"y":{"datum":90.867,"axis":null}}}
]
},
{
"width":2513,"height":29,
"resolve":{"axis":{"x":"independent","y":"independent"}},
"layer":[
{"data":{"values":[{"v":30},{"v":50},{"v":70}]},"mark":{"type":"rule","color":"#c8c8c8","strokeDash":[3,3],"strokeWidth":1},
 "encoding":{"y":{"field":"v","type":"quantitative","scale":{"domain":[-4.8,111.2],"nice":false,"zero":false},
   "axis":{"orient":"right","title":null,"values":[0,30,50,70,100],"tickSize":2,"tickColor":"#ffffff","labelColor":"#ffffff","labelFontSize":9,"labelPadding":1,"domain":false,"labelFlush":false,"labelOverlap":false,"labelBound":false}}}},
{"data":{"name":"rsi"},"mark":{"type":"line","color":"#1e90ff","strokeWidth":1},
 "encoding":{
  "x":{"field":"i","type":"quantitative","scale":{"domain":[-0.375,627.875],"nice":false,"zero":false},
   "axis":{"title":null,"values":[0,16,32,48,64,80,96,112,128,144,160,176,192,208,224,240,256,272,288,304,320,336,352,368,384,400,416,432,448,464,480,496],
    "labelExpr":"['4 Jun 2021','9 Jun 12:00','14 Jun 04:00','16 Jun 20:00','21 Jun 12:00','24 Jun 04:00','28 Jun 20:00','1 Jul 12:00','6 Jul 04:00','8 Jul 20:00','13 Jul 12:00','16 Jul 04:00','20 Jul 20:00','23 Jul 12:00','28 Jul 04:00','30 Jul 20:00','4 Aug 12:00','9 Aug 04:00','11 Aug 20:00','16 Aug 12:00','19 Aug 04:00','23 Aug 20:00','26 Aug 12:00','31 Aug 04:00','2 Sep 20:00','7 Sep 12:00','10 Sep 04:00','14 Sep 20:00','17 Sep 12:00','22 Sep 04:00','24 Sep 20:00','29 Sep 12:00'][round(datum.value/16)]",
    "tickSize":3,"tickColor":"#ffffff","labelColor":"#ffffff","labelFontSize":9,"labelAlign":"left","labelPadding":3,"labelOverlap":false,"labelFlush":false,"labelBound":false,"domain":false}},
  "y":{"field":"r","type":"quantitative","axis":null}}},
{"data":{"values":[{}]},"mark":{"type":"text","text":"RSI(14) 62.0667","color":"#e0e0e0","align":"left","baseline":"middle","fontSize":9},
 "encoding":{"x":{"datum":1.125,"axis":null},"y":{"datum":70,"axis":null}}}
]
}
]
}
